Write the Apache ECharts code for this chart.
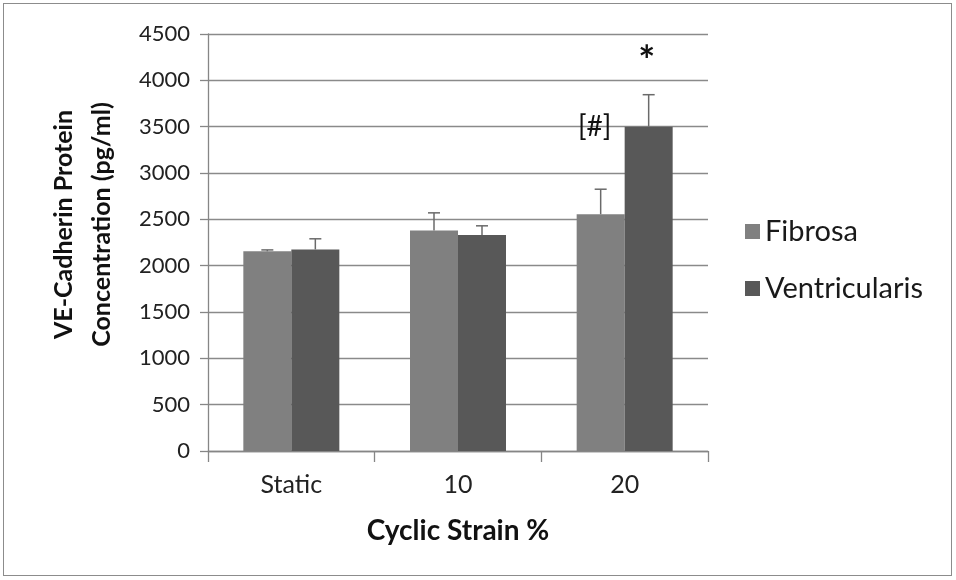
<!DOCTYPE html>
<html>
<head>
<meta charset="utf-8">
<script src="https://cdn.jsdelivr.net/npm/echarts@6/dist/echarts.min.js"></script>
<style>
html,body{margin:0;padding:0;background:#fff;}
#frame{position:absolute;left:3px;top:3px;width:949px;height:573px;border:1px solid #8c8c8c;box-sizing:border-box;}
#chart{position:absolute;left:0;top:0;width:956px;height:580px;}
</style>
</head>
<body>
<div id="frame"></div>
<div id="chart"></div>
<script>
const categories = ['Static', '10', '20'];
const fibrosa = [2155, 2380, 2555];
const fibrosaErr = [15, 190, 270];
const ventricularis = [2175, 2330, 3500];
const ventricularisErr = [115, 100, 345];
const fibrosaNotes = ['', '', '[#]'];
const ventricularisNotes = ['', '', '*'];
const yTicks = {min: 0, max: 4500, interval: 500};

const FONT = 'Lato';
const colF = '#808080';
const colV = '#585858';
const gapPct = 42.4;

const chart = echarts.init(document.getElementById('chart'), null, {renderer: 'canvas'});

function errSeries(name, vals, errs, side) {
  return {
    type: 'custom',
    name: name + ' error',
    z: 5,
    silent: true,
    data: vals.map((v, i) => [i, v, v + errs[i]]),
    renderItem: function (params, api) {
      const i = api.value(0);
      const base = api.coord([i, api.value(1)]);
      const top = api.coord([i, api.value(2)]);
      const band = api.size([1, 0])[0];
      const bw = band * (1 - gapPct / 100) / 2;
      const x = base[0] + side * bw / 2;
      const cap = 6;
      const st = {stroke: '#6a6a6a', lineWidth: 1.5};
      return {
        type: 'group',
        children: [
          {type: 'line', shape: {x1: x, y1: base[1], x2: x, y2: top[1]}, style: st},
          {type: 'line', shape: {x1: x - cap, y1: top[1], x2: x + cap, y2: top[1]}, style: st}
        ]
      };
    }
  };
}

function barData(vals, notes, labelCfg) {
  return vals.map((v, i) => {
    if (!notes[i]) return v;
    return {value: v, label: Object.assign({show: true, position: 'top', formatter: notes[i]}, labelCfg)};
  });
}

chart.setOption({
  animation: false,
  backgroundColor: 'transparent',
  grid: {left: 208, right: 248, top: 34, bottom: 129, containLabel: false},
  legend: {
    orient: 'vertical',
    left: 740,
    top: 212,
    itemWidth: 15,
    itemHeight: 15,
    itemGap: 28,
    icon: 'rect',
    data: ['Fibrosa', 'Ventricularis'],
    textStyle: {fontFamily: FONT, fontSize: 29, color: '#1a1a1a', padding: [0, 0, 0, 0]}
  },
  xAxis: {
    type: 'category',
    data: categories,
    boundaryGap: true,
    name: 'Cyclic Strain %',
    nameLocation: 'middle',
    nameGap: 66,
    nameTextStyle: {fontFamily: FONT, fontSize: 28, fontWeight: 'bold', color: '#111'},
    axisLine: {lineStyle: {color: '#868686', width: 1.3}},
    axisTick: {show: true, length: 11, lineStyle: {color: '#868686', width: 1.3}},
    axisLabel: {fontFamily: FONT, fontSize: 25, color: '#222', margin: 21},
    splitLine: {show: false}
  },
  yAxis: {
    type: 'value',
    min: yTicks.min,
    max: yTicks.max,
    interval: yTicks.interval,
    name: 'VE-Cadherin Protein\nConcentration (pg/ml)',
    nameLocation: 'middle',
    nameGap: 87,
    nameRotate: 90,
    nameTextStyle: {fontFamily: FONT, fontSize: 25, fontWeight: 'bold', color: '#111', lineHeight: 38, padding: [0, 0, 0, 36]},
    axisLine: {show: true, lineStyle: {color: '#868686', width: 1.3}},
    axisTick: {show: true, length: 8, lineStyle: {color: '#868686', width: 1.3}},
    axisLabel: {fontFamily: FONT, fontSize: 22, color: '#222', margin: 18, formatter: v => String(v)},
    splitLine: {show: true, lineStyle: {color: '#8a8a8a', width: 1.3}}
  },
  series: [
    {
      name: 'Fibrosa',
      type: 'bar',
      barGap: '0%',
      barCategoryGap: gapPct + '%',
      itemStyle: {color: colF},
      data: barData(fibrosa, fibrosaNotes, {fontFamily: FONT, fontSize: 28, color: '#111', offset: [-6, -68]})
    },
    {
      name: 'Ventricularis',
      type: 'bar',
      barGap: '0%',
      barCategoryGap: gapPct + '%',
      itemStyle: {color: colV},
      data: barData(ventricularis, ventricularisNotes, {fontFamily: FONT, fontSize: 40, fontWeight: 'bold', color: '#111', offset: [-2, -40]})
    },
    errSeries('Fibrosa', fibrosa, fibrosaErr, -1),
    errSeries('Ventricularis', ventricularis, ventricularisErr, 1)
  ]
});
</script>
</body>
</html>
